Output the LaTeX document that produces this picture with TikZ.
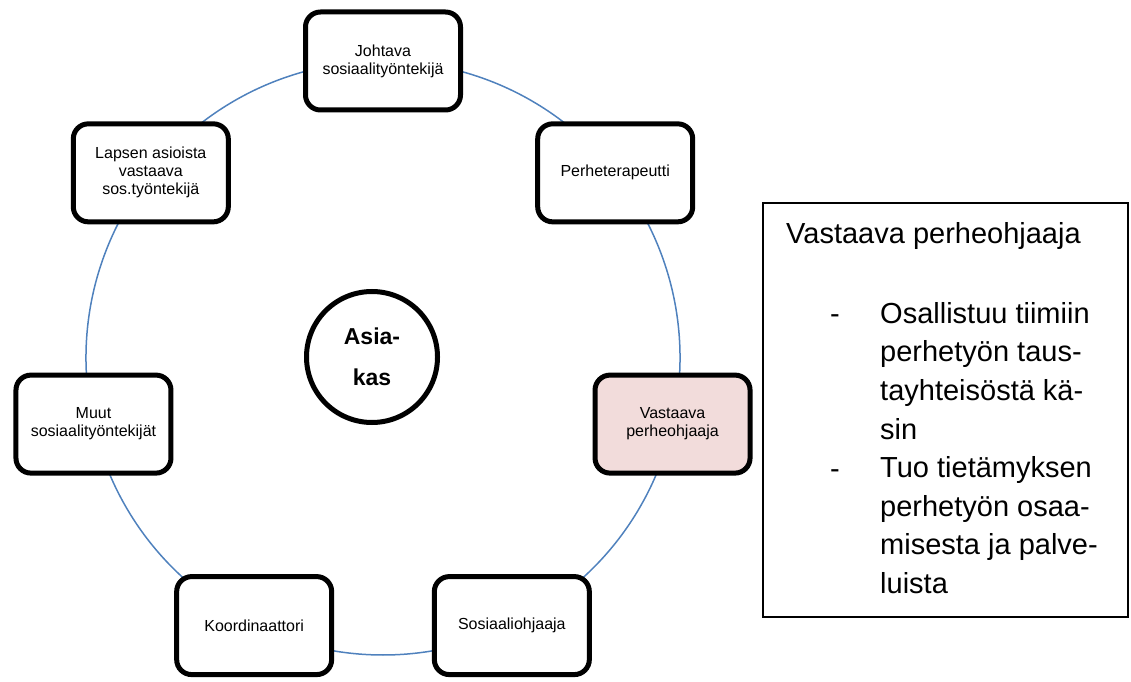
\documentclass[tikz,border=0pt]{standalone}
\usepackage{fontspec}
\setmainfont{Liberation Sans}
\usetikzlibrary{backgrounds}
\definecolor{ringblue}{HTML}{4F81BD}
\definecolor{paleRose}{HTML}{F2DCDB}
\tikzset{
  worker/.style={draw, line width=5pt, rounded corners=15pt, fill=white,
    minimum width=155pt, minimum height=98pt, align=center, inner sep=2pt,
    font=\fontsize{16}{18}\selectfont},
  client/.style={draw, circle, line width=5pt, fill=white, minimum size=131pt,
    align=center, font=\fontsize{23}{41}\selectfont\bfseries},
  infobox/.style={draw, line width=1.2pt, minimum width=365pt, minimum height=414pt},
  bigtext/.style={inner sep=0pt, font=\fontsize{29}{38.6}\selectfont},
  link/.style={ringblue, line width=1.5pt},
}
\begin{document}
\begin{tikzpicture}[x=1pt,y=1pt]
\useasboundingbox (0,0) rectangle (1131,681);
\coordinate (ring) at (383,323);
% team round the client
\node[worker] (johtava) at ([shift={(90:297)}]ring) {Johtava\\sosiaalityöntekijä};
\node[worker] (terapeutti) at ([shift={(38.57:297)}]ring) {Perheterapeutti};
\node[worker, fill=paleRose] (ohjaaja) at ([shift={(-12.86:297)}]ring) {Vastaava\\perheohjaaja};
\node[worker] (sosohjaaja) at ([shift={(-64.29:297)}]ring) {Sosiaaliohjaaja};
\node[worker] (koordinaattori) at ([shift={(-115.71:297)}]ring) {Koordinaattori};
\node[worker] (muut) at ([shift={(-167.14:297)}]ring) {Muut\\sosiaalityöntekijät};
\node[worker] (lapsen) at ([shift={(141.43:297)}]ring) {Lapsen asioista\\vastaava\\sos.työntekijä};
\node[client] (asiakas) at (372,324) {Asia-\\kas};
\begin{scope}[on background layer]
\draw[link] (johtava.center) to[bend left=25.7, looseness=0.9] (terapeutti.center);
\draw[link] (terapeutti.center) to[bend left=25.7, looseness=0.9] (ohjaaja.center);
\draw[link] (ohjaaja.center) to[bend left=25.7, looseness=0.9] (sosohjaaja.center);
\draw[link] (sosohjaaja.center) to[bend left=25.7, looseness=0.9] (koordinaattori.center);
\draw[link] (koordinaattori.center) to[bend left=25.7, looseness=0.9] (muut.center);
\draw[link] (muut.center) to[bend left=25.7, looseness=0.9] (lapsen.center);
\draw[link] (lapsen.center) to[bend left=25.7, looseness=0.9] (johtava.center);
\end{scope}
% side box
\node[infobox] (info) at (945.5,271) {};
\node[bigtext, anchor=base west] (otsikko) at (786,437) {Vastaava perheohjaaja};
\node[bigtext, anchor=base west] (viiva1) at (830,357.5) {-};
\node[bigtext, anchor=north west, align=left] (kohta1) at (880,379)
  {Osallistuu tiimiin\\perhetyön taus-\\tayhteisöstä kä-\\sin};
\node[bigtext, anchor=base west] (viiva2) at (830,203) {-};
\node[bigtext, anchor=north west, align=left] (kohta2) at (880,224.5)
  {Tuo tietämyksen\\perhetyön osaa-\\misesta ja palve-\\luista};
\end{tikzpicture}
\end{document}
